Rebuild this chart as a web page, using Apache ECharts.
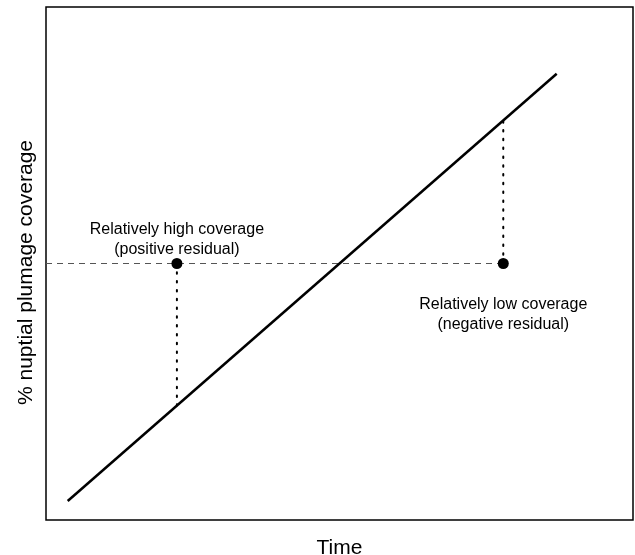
<!DOCTYPE html>
<html>
<head>
<meta charset="utf-8">
<script src="https://cdn.jsdelivr.net/npm/echarts@6/dist/echarts.min.js"></script>
<style>html,body{margin:0;padding:0;background:#fff}#c{width:635px;height:555px}</style>
</head>
<body>
<div id="c"></div>
<script>
// Regression line endpoints (data units, axis 0..100)
const lineX = [3.7, 87];
const lineY = [3.7, 87];
// Observed points
const pointX = [22.3, 77.9];
const pointY = [50, 50];
// Fitted values on the line at the point x positions
const fittedY = [22.3, 77.9];
// Annotation labels and anchor positions
const labelText = ['Relatively high coverage\n(positive residual)', 'Relatively low coverage\n(negative residual)'];
const labelX = [22.3, 77.9];
const labelY = [54.6, 40.1];
const xName = 'Time';
const yName = '% nuptial plumage coverage';

const chart = echarts.init(document.getElementById('c'));
const font = 'Liberation Sans, Arial, Helvetica, sans-serif';

const series = [];
series.push({
  type: 'line', data: lineX.map((x, i) => [x, lineY[i]]), symbol: 'none',
  lineStyle: { color: '#000', width: 2.5 }, silent: true, z: 3
});
// dashed horizontal through the points
series.push({
  type: 'line', data: [[0, pointY[0]], [pointX[1], pointY[1]]], symbol: 'none',
  lineStyle: { color: '#555', width: 1, type: [6, 5] }, silent: true, z: 2
});
// residual dotted segments
pointX.forEach((x, i) => {
  series.push({
    type: 'line', data: [[x, pointY[i]], [x, fittedY[i]]], symbol: 'none',
    lineStyle: { color: '#000', width: 2, type: [1.5, 7.3], cap: 'round' }, silent: true, z: 2
  });
});
series.push({
  type: 'scatter', data: pointX.map((x, i) => [x, pointY[i]]), symbol: 'circle', symbolSize: 11,
  itemStyle: { color: '#000', opacity: 1 }, silent: true, z: 5
});
series.push({
  type: 'scatter', data: labelX.map((x, i) => ({ value: [x, labelY[i]], text: labelText[i] })),
  symbolSize: 0, silent: true, itemStyle: { opacity: 1 },
  label: {
    show: true, position: 'inside', formatter: p => p.data.text,
    color: '#000', fontFamily: font, fontSize: 16, lineHeight: 20, align: 'center'
  }
});

chart.setOption({
  animation: false,
  backgroundColor: '#fff',
  grid: { left: 46, right: 2, top: 7, bottom: 35, containLabel: false, outerBoundsMode: 'none',
    show: true, borderColor: '#000', borderWidth: 1.5, backgroundColor: 'transparent' },
  xAxis: {
    type: 'value', min: 0, max: 100, name: xName, nameLocation: 'middle', nameGap: 18,
    nameTextStyle: { fontFamily: font, fontSize: 21, color: '#000' },
    axisLine: { show: false }, axisTick: { show: false }, axisLabel: { show: false }, splitLine: { show: false }
  },
  yAxis: {
    type: 'value', min: 0, max: 100, name: yName, nameLocation: 'middle', nameGap: 9,
    nameTextStyle: { fontFamily: font, fontSize: 21, color: '#000', padding: [0, 18, 0, 0] },
    axisLine: { show: false }, axisTick: { show: false }, axisLabel: { show: false }, splitLine: { show: false }
  },
  series
});
</script>
</body>
</html>
